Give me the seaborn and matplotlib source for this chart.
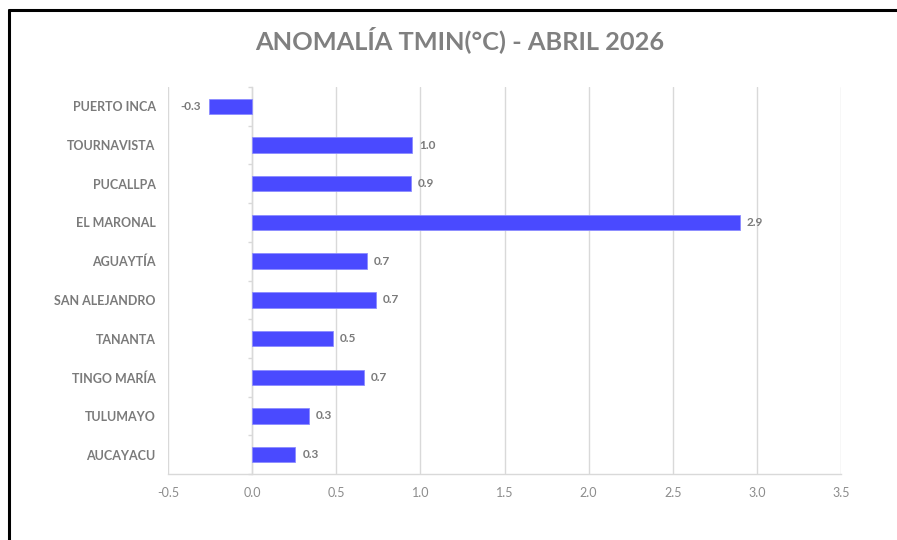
import numpy as np
import pandas as pd
import matplotlib
matplotlib.use("Agg")
import matplotlib.pyplot as plt
from matplotlib.lines import Line2D
import seaborn as sns

# data
estaciones = ["PUERTO INCA", "TOURNAVISTA", "PUCALLPA", "EL MARONAL", "AGUAYTÍA",
              "SAN ALEJANDRO", "TANANTA", "TINGO MARÍA", "TULUMAYO", "AUCAYACU"]
anomalia = [-0.254, 0.952, 0.945, 2.90, 0.681, 0.737, 0.479, 0.662, 0.337, 0.257]
x_ticks = [-0.5, 0.0, 0.5, 1.0, 1.5, 2.0, 2.5, 3.0, 3.5]
titulo = "ANOMALÍA TMIN(°C) - ABRIL 2026"

df = pd.DataFrame({"estacion": estaciones, "anomalia": anomalia})

sns.set_style("white")
plt.rcParams["font.family"] = ["Lato", "DejaVu Sans"]

fig = plt.figure(figsize=(8.97, 5.40), dpi=100)
ax = fig.add_axes([0.1873, 0.1222, 0.7503, 0.7167])

sns.barplot(data=df, x="anomalia", y="estacion", orient="h", color="#4a4aff",
            saturation=1, width=0.4, edgecolor="#8c8cff", linewidth=0.6, ax=ax, zorder=3)

ax.set_xlim(-0.5, 3.5)
ax.set_ylim(len(estaciones) - 0.5, -0.5)
ax.set_xticks(x_ticks)
ax.set_xticklabels([f"{t:.1f}" for t in x_ticks])
ax.xaxis.grid(True, color="#d9d9d9", linewidth=1, zorder=0)
ax.set_axisbelow(True)
ax.set_xlabel("")
ax.set_ylabel("")

for s in ["top", "right", "left"]:
    ax.spines[s].set_visible(False)
ax.spines["bottom"].set_color("#d9d9d9")
ax.spines["bottom"].set_linewidth(1)

ax.tick_params(axis="x", length=0, pad=9, labelsize=9, labelcolor="#8c8c8c")
ax.tick_params(axis="y", length=0, pad=9, labelsize=9, labelcolor="#7a7a7a")
for lab in ax.get_yticklabels():
    lab.set_fontweight("bold")

# vertical axis crossing at zero, with category tick marks
zero_pos = (0 - x_ticks[0]) / (x_ticks[-1] - x_ticks[0])
sec = ax.secondary_yaxis(zero_pos)
sec.set_yticks(np.arange(-0.5, len(estaciones), 1))
sec.set_yticklabels([])
sec.tick_params(length=3, color="#d9d9d9", width=1)
sec.spines["left"].set_color("#d9d9d9")
sec.spines["left"].set_linewidth(1)

# data labels
for i, v in enumerate(anomalia):
    if v < 0:
        ax.annotate(f"{v:.1f}", (v, i), xytext=(-6, 0), textcoords="offset points",
                    ha="right", va="center", fontsize=8.5, fontweight="bold", color="#7a7a7a")
    else:
        ax.annotate(f"{v:.1f}", (v, i), xytext=(5, 0), textcoords="offset points",
                    ha="left", va="center", fontsize=8.5, fontweight="bold", color="#7a7a7a")

fig.text(0.513, 0.926, titulo, ha="center", va="center", fontsize=18.3,
         fontweight="bold", color="#808080")

# frame lines along top and left of the image
fig.add_artist(Line2D([9 / 897, 1], [1 - 10 / 540, 1 - 10 / 540], color="black", linewidth=2.2))
fig.add_artist(Line2D([9 / 897, 9 / 897], [0, 1 - 10 / 540], color="black", linewidth=2.2))

fig.savefig("out.png", dpi=100, facecolor="white")
